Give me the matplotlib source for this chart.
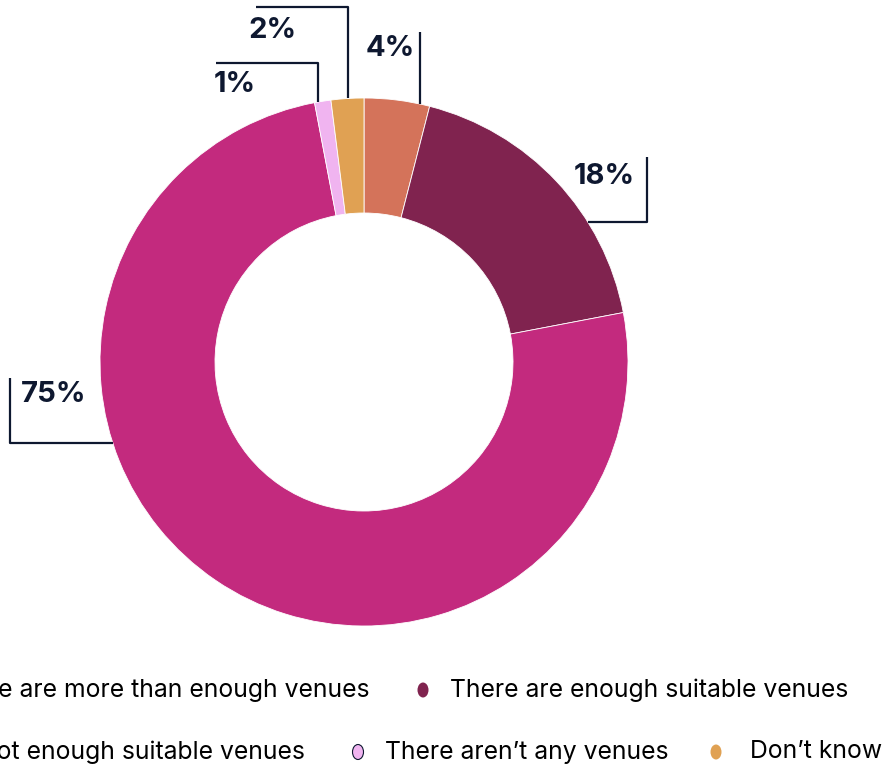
import numpy as np
import matplotlib
matplotlib.use("Agg")
import matplotlib.pyplot as plt
from matplotlib.patches import Ellipse

categories = [
    "There are more than enough venues",
    "There are enough suitable venues",
    "There are not enough suitable venues",
    "There aren\u2019t any venues",
    "Don\u2019t know",
]
shares = [4, 18, 75, 1, 2]
colors = ["#D4735A", "#80234F", "#C32A7E", "#F0B4F0", "#E0A153"]
ink = "#0E1830"

W, H = 882, 767
fig = plt.figure(figsize=(W / 100, H / 100), dpi=100)
ax = fig.add_axes([0, 0, 1, 1])

# donut in pixel units: 1 data unit == 1 pixel
cx, cy, R, ring = 364, 405, 264, 115
ax.pie(shares, colors=colors, startangle=90, counterclock=False,
       radius=R, center=(cx, cy),
       wedgeprops=dict(width=ring, edgecolor="white", linewidth=0.6))
ax.set_xlim(0, W)
ax.set_ylim(0, H)
ax.set_aspect("equal")
ax.axis("off")


def ring_top(x):
    return cy + np.sqrt(R ** 2 - (x - cx) ** 2)


def ring_side(y, side):
    return cx + side * np.sqrt(R ** 2 - (y - cy) ** 2)


lbl = dict(color=ink, fontsize=21, fontweight="bold", family="Inter")
line = dict(color=ink, lw=1.6, solid_capstyle="butt")

# leader lines + labels
# 4%: straight up
x0 = 420
ax.plot([x0, x0], [ring_top(x0), 735], **line)
ax.text(x0 - 5, 719, f"{shares[0]}%", ha="right", va="center", **lbl)

# 2%: up then left
x0 = 348
ax.plot([x0, x0, 256], [ring_top(x0), 760, 760], **line)
ax.text(248, 737, f"{shares[4]}%", ha="left", va="center", **lbl)

# 1%: up then left
x0 = 318
ax.plot([x0, x0, 216], [ring_top(x0), 704, 704], **line)
ax.text(214, 683, f"{shares[3]}%", ha="left", va="center", **lbl)

# 18%: right then up
y0 = 545
ax.plot([ring_side(y0, 1), 647, 647], [y0, y0, 610], **line)
ax.text(635, 591, f"{shares[1]}%", ha="right", va="center", **lbl)

# 75%: left then up
y0 = 324
ax.plot([ring_side(y0, -1), 10, 10], [y0, y0, 389], **line)
ax.text(21, 372, f"{shares[2]}%", ha="left", va="center", **lbl)

# legend, two rows, drawn by hand so it can run off the left edge
leg = dict(color="black", fontsize=17.8, family="Inter", va="center")
rows = [(77, [(0, -1, 0), (1, 423, 27)]),
        (15, [(2, -1, 0), (3, 358, 27), (4, 716, 34)])]
for ly, items in rows:
    for i, (k, mx, gap) in enumerate(items):
        if mx < 0:
            # entry cut by the left edge: text ends just before next marker
            nxt = items[i + 1][1]
            ax.text(nxt - 53, ly, categories[k], ha="right", **leg)
            continue
        ax.add_patch(Ellipse((mx, ly), 11, 15, facecolor=colors[k],
                             edgecolor=ink if k == 3 else "none", lw=0.8))
        ax.text(mx + gap, ly, categories[k], ha="left", **leg)

fig.savefig("out.png", dpi=100)
